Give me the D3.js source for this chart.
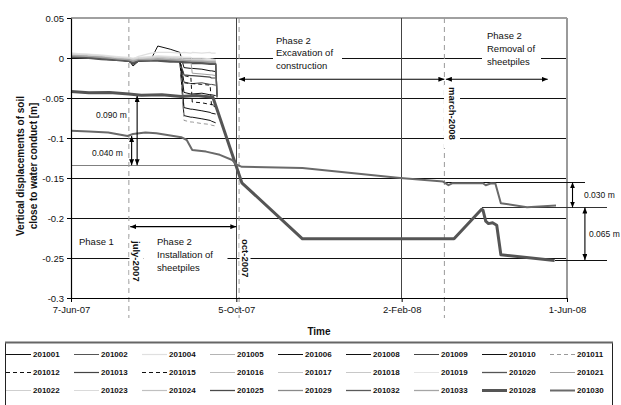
<!DOCTYPE html>
<html>
<head>
<meta charset="utf-8">
<script src="https://cdn.jsdelivr.net/npm/d3@7"></script>
<style>
  body { margin: 0; background: #fff; }
  svg { display: block; }
  text { font-family: "Liberation Sans", Arial, sans-serif; fill: #111; }
</style>
</head>
<body>
<svg id="chart" width="621" height="405"></svg>
<script>
// ---- Settlement readings (vertical displacement, metres) ----
const seriesNames = [
  "201001","201002","201004","201005","201006","201008","201009","201010","201011",
  "201012","201013","201015","201016","201017","201018","201019","201020","201021",
  "201022","201023","201024","201025","201029","201032","201033","201028","201030"
];

// survey dates shared by the points around the conduct (summer 2007)
const clusterDates = [
  "2007-06-07","2007-06-18","2007-06-29","2007-07-10","2007-07-19","2007-07-22",
  "2007-07-26","2007-08-04","2007-08-09","2007-08-18","2007-08-25","2007-08-28",
  "2007-09-02","2007-09-03","2007-09-10","2007-09-16","2007-09-17","2007-09-20","2007-09-21"
];

const v201001 = [0.004,0.003,0.001,-0.001,-0.003,-0.010,-0.004,-0.002,0.015,0.011,0.007,-0.012,-0.013,-0.013,-0.014,-0.016,-0.016,-0.017,null];
const v201002 = [0.002,0.001,0.000,-0.002,-0.004,-0.006,-0.003,-0.003,-0.002,-0.003,-0.004,-0.004,-0.005,-0.005,-0.005,-0.006,-0.006,-0.007,null];
const v201004 = [0.006,0.005,0.003,0.001,0.000,-0.001,0.002,0.006,0.007,0.007,0.006,0.007,0.006,0.007,0.006,0.007,0.006,0.006,null];
const v201005 = [0.005,0.004,0.002,0.000,-0.001,-0.002,0.000,0.000,0.001,0.000,-0.001,-0.002,-0.002,-0.003,-0.003,-0.004,-0.004,-0.004,null];
const v201006 = [0.003,0.002,0.000,-0.002,-0.004,-0.008,-0.003,-0.002,-0.001,-0.002,-0.003,-0.043,-0.045,-0.045,-0.044,-0.046,-0.046,-0.047,null];
const v201008 = [0.002,0.001,-0.001,-0.002,-0.003,-0.005,-0.003,-0.003,-0.002,-0.003,-0.004,-0.062,-0.064,-0.064,-0.066,-0.068,-0.069,-0.070,null];
const v201009 = [0.004,0.003,0.001,-0.001,-0.002,-0.004,-0.002,-0.001,-0.001,-0.002,-0.003,-0.030,-0.032,-0.032,-0.031,-0.033,-0.033,-0.034,null];
const v201010 = [0.003,0.002,0.000,-0.002,-0.003,-0.006,-0.002,-0.002,-0.001,-0.002,-0.003,-0.072,-0.074,-0.074,-0.076,-0.078,-0.079,-0.081,null];
const v201011 = [0.002,0.001,-0.001,-0.002,-0.004,-0.005,-0.003,-0.002,-0.002,-0.003,-0.004,-0.078,-0.080,-0.080,-0.082,-0.083,-0.084,-0.085,null];
const v201012 = [0.003,0.002,0.000,-0.001,-0.003,-0.006,-0.003,-0.002,-0.002,-0.003,-0.004,-0.022,-0.024,-0.055,-0.056,-0.058,-0.058,-0.060,null];
const v201013 = [0.001,0.000,-0.001,-0.003,-0.004,-0.007,-0.004,-0.003,-0.003,-0.004,-0.005,-0.021,-0.022,-0.022,-0.023,-0.024,-0.025,-0.025,null];
const v201015 = [0.002,0.001,0.000,-0.002,-0.003,-0.005,-0.002,-0.002,-0.001,-0.002,-0.003,-0.031,-0.032,-0.032,-0.033,-0.034,-0.060,-0.061,null];
const v201016 = [0.004,0.003,0.001,-0.001,-0.002,-0.003,-0.001,-0.001,0.000,-0.001,-0.002,-0.002,-0.003,-0.003,-0.004,-0.004,-0.004,-0.005,null];
const v201017 = [0.003,0.003,0.001,0.000,-0.002,-0.003,-0.002,-0.001,-0.001,-0.002,-0.002,-0.003,-0.003,-0.004,-0.003,-0.004,-0.005,-0.005,null];
const v201018 = [0.005,0.004,0.002,0.000,-0.001,-0.002,0.000,0.001,0.001,0.001,0.000,-0.001,-0.001,-0.002,-0.002,-0.003,-0.003,-0.003,null];
const v201019 = [0.006,0.005,0.004,0.002,0.001,0.000,0.001,0.002,0.003,0.002,0.002,0.001,0.001,0.000,0.000,-0.001,-0.001,-0.002,null];
const v201020 = [0.001,0.000,-0.002,-0.003,-0.004,-0.006,-0.004,-0.004,-0.004,-0.005,-0.005,-0.006,-0.006,-0.007,-0.007,-0.008,-0.008,-0.008,-0.048];
const v201021 = [0.003,0.002,0.000,-0.001,-0.003,-0.004,-0.002,-0.002,-0.002,-0.003,-0.003,-0.004,-0.004,-0.019,-0.020,-0.021,-0.021,-0.022,null];
const v201022 = [0.004,0.003,0.002,0.000,-0.001,-0.003,-0.001,0.000,0.000,-0.001,-0.001,-0.002,-0.002,-0.002,-0.003,-0.003,-0.003,-0.004,null];
const v201023 = [0.005,0.004,0.003,0.001,0.000,-0.001,0.000,0.001,0.002,0.001,0.001,0.000,0.000,-0.001,-0.001,-0.001,-0.002,-0.002,null];
const v201024 = [0.003,0.002,0.001,-0.001,-0.002,-0.003,-0.002,-0.001,-0.001,-0.002,-0.002,-0.003,-0.004,-0.004,-0.005,-0.005,-0.006,-0.006,-0.050];
const v201025 = [0.002,0.001,-0.001,-0.002,-0.004,-0.007,-0.004,-0.003,-0.003,-0.004,-0.004,-0.005,-0.005,-0.006,-0.006,-0.007,-0.007,-0.007,-0.049];
const v201029 = [0.002,0.002,0.000,-0.002,-0.003,-0.005,-0.003,-0.002,-0.002,-0.003,-0.003,-0.004,-0.004,-0.005,-0.005,-0.006,-0.006,-0.006,null];
const v201032 = [0.001,0.001,-0.001,-0.002,-0.004,-0.006,-0.003,-0.003,-0.003,-0.004,-0.004,-0.005,-0.005,-0.005,-0.006,-0.007,-0.007,-0.008,-0.047];
const v201033 = [0.003,0.002,0.001,-0.001,-0.002,-0.004,-0.002,-0.002,-0.001,-0.002,-0.003,-0.003,-0.004,-0.004,-0.004,-0.005,-0.005,-0.005,null];

// point 201028: follows the excavation down and the later recovery
const dates201028 = [
  "2007-06-07","2007-06-20","2007-07-05","2007-07-19","2007-07-28","2007-08-12","2007-08-26",
  "2007-09-06","2007-09-18","2007-10-09","2007-11-22","2008-03-11","2008-03-31","2008-04-01",
  "2008-04-03","2008-04-05","2008-04-08","2008-04-11","2008-04-14","2008-05-23"
];
const v201028 = [-0.042,-0.0435,-0.043,-0.045,-0.0465,-0.046,-0.048,-0.047,-0.049,-0.156,-0.226,-0.226,-0.189,-0.190,-0.204,-0.207,-0.206,-0.209,-0.246,-0.253];

// point 201030
const dates201030 = [
  "2007-06-07","2007-06-20","2007-07-04","2007-07-18","2007-07-22","2007-07-31","2007-08-08",
  "2007-08-26","2007-08-30","2007-09-03","2007-09-13","2007-09-23","2007-10-02","2007-10-05",
  "2007-10-09","2007-11-22","2008-02-01","2008-03-03","2008-03-07","2008-03-10","2008-04-01",
  "2008-04-03","2008-04-07","2008-04-10","2008-04-14","2008-05-03","2008-05-24"
];
const v201030 = [-0.091,-0.092,-0.093,-0.0975,-0.095,-0.093,-0.094,-0.099,-0.1025,-0.115,-0.117,-0.121,-0.1275,-0.133,-0.136,-0.1375,-0.150,-0.1545,-0.159,-0.1565,-0.1565,-0.159,-0.1565,-0.157,-0.1815,-0.1865,-0.1845];

// axis ticks
const xTickDates = ["2007-06-07","2007-10-05","2008-02-02","2008-06-01"];
const yTickValues = [0.05, 0, -0.05, -0.1, -0.15, -0.2, -0.25, -0.3];
const yTickLabels = ["0.05","0","-0.05","-0.1","-0.15","-0.2","-0.25","-0.3"];

// construction milestones (dashed markers)
const milestoneDates = ["2007-07-19","2007-10-07","2008-03-04"];
const milestoneLabels = ["july-2007","oct-2007","march-2008"];

// measured settlement differences
const settlementLabels = ["0.090 m","0.040 m","0.030 m","0.065 m"];
const settlementFrom = [-0.0475, -0.0975, -0.1554, -0.1869];
const settlementTo   = [-0.134, -0.134, -0.1869, -0.2525];

// ---- styles ----
const seriesStyle = {
  "201001": {c:"#111", w:1}, "201002": {c:"#555", w:1}, "201004": {c:"#e0e0e0", w:1.2},
  "201005": {c:"#b4b4b4", w:1}, "201006": {c:"#111", w:1}, "201008": {c:"#111", w:1},
  "201009": {c:"#444", w:1}, "201010": {c:"#111", w:1}, "201011": {c:"#999", w:1, dash:"4,3"},
  "201012": {c:"#111", w:1, dash:"4,3"}, "201013": {c:"#444", w:1.2}, "201015": {c:"#111", w:1, dash:"4,3"},
  "201016": {c:"#bdbdbd", w:1}, "201017": {c:"#c4c4c4", w:1}, "201018": {c:"#c8c8c8", w:1},
  "201019": {c:"#e4e4e4", w:1}, "201020": {c:"#555", w:1.3}, "201021": {c:"#a0a0a0", w:1},
  "201022": {c:"#cfcfcf", w:1}, "201023": {c:"#dadada", w:1}, "201024": {c:"#c0c0c0", w:1.2},
  "201025": {c:"#4a4a4a", w:1.3}, "201029": {c:"#8a8a8a", w:1.3}, "201032": {c:"#5a5a5a", w:1.3},
  "201033": {c:"#a5a5a5", w:1.3}, "201028": {c:"#555", w:3}, "201030": {c:"#6a6a6a", w:2}
};

const clusterValues = {
  "201001": v201001, "201002": v201002, "201004": v201004, "201005": v201005, "201006": v201006,
  "201008": v201008, "201009": v201009, "201010": v201010, "201011": v201011, "201012": v201012,
  "201013": v201013, "201015": v201015, "201016": v201016, "201017": v201017, "201018": v201018,
  "201019": v201019, "201020": v201020, "201021": v201021, "201022": v201022, "201023": v201023,
  "201024": v201024, "201025": v201025, "201029": v201029, "201032": v201032, "201033": v201033
};

const parse = d3.timeParse("%Y-%m-%d");
const svg = d3.select("#chart");

const x = d3.scaleTime().domain([parse("2007-06-07"), parse("2008-06-01")]).range([71, 567]);
const y = d3.scaleLinear().domain([-0.3, 0.05]).range([298, 18]);
const [x0, x1] = x.range();

// arrow head marker
const defs = svg.append("defs");
defs.append("marker").attr("id", "ah")
  .attr("viewBox", "0 0 10 10").attr("refX", 10).attr("refY", 5)
  .attr("markerWidth", 6).attr("markerHeight", 5).attr("preserveAspectRatio", "none")
  .attr("markerUnits", "userSpaceOnUse").attr("orient", "auto-start-reverse")
  .append("path").attr("d", "M0,0L10,5L0,10Z").attr("fill", "#000");

// ---- grid ----
const grid = svg.append("g").attr("shape-rendering", "crispEdges");
grid.selectAll("line.h").data(yTickValues.filter(v => v < 0.05 && v > -0.3)).join("line")
  .attr("x1", x0).attr("x2", x1).attr("y1", d => y(d)).attr("y2", d => y(d))
  .attr("stroke", "#111").attr("stroke-width", 1);
grid.append("line").attr("x1", x0).attr("x2", x1).attr("y1", y(0.05)).attr("y2", y(0.05))
  .attr("stroke", "#a0a0a0").attr("stroke-width", 1.5);
grid.selectAll("line.v").data(xTickDates.slice(1, 3)).join("line")
  .attr("x1", d => x(parse(d))).attr("x2", d => x(parse(d)))
  .attr("y1", y(0.05)).attr("y2", y(-0.3)).attr("stroke", "#444");
grid.append("line").attr("x1", x1).attr("x2", x1).attr("y1", y(0.05)).attr("y2", y(-0.3))
  .attr("stroke", "#9a9a9a").attr("stroke-width", 2);

// reference levels
const refs = svg.append("g").attr("shape-rendering", "crispEdges");
refs.append("line").attr("x1", x0).attr("x2", x(parse("2007-10-05")))
  .attr("y1", y(-0.134)).attr("y2", y(-0.134)).attr("stroke", "#808080").attr("stroke-width", 1.3);
refs.append("line").attr("x1", x(parse("2008-03-05"))).attr("x2", x(parse("2008-06-14")))
  .attr("y1", y(-0.1554)).attr("y2", y(-0.1554)).attr("stroke", "#111");
refs.append("line").attr("x1", x(parse("2008-03-31"))).attr("x2", x(parse("2008-06-30")))
  .attr("y1", y(-0.1869)).attr("y2", y(-0.1869)).attr("stroke", "#333").attr("stroke-width", 1.3);
refs.append("line").attr("x1", x(parse("2008-05-23"))).attr("x2", x(parse("2008-06-30")))
  .attr("y1", y(-0.2525)).attr("y2", y(-0.2525)).attr("stroke", "#111");

// milestone dashed markers
svg.append("g").selectAll("line").data(milestoneDates).join("line")
  .attr("x1", d => x(parse(d))).attr("x2", d => x(parse(d)))
  .attr("y1", y(0.05)).attr("y2", 318)
  .attr("stroke", "#999").attr("stroke-dasharray", "5,4").attr("stroke-width", 1);

// ---- text annotations with white backing ----
const ann = svg.append("g");
const boxes = [[273, 30, 69, 42], [482, 27, 59, 42], [444, 85, 16, 63], [129.5, 237, 14, 44], [143.5, 234, 84, 42], [239.5, 235, 11, 44]];
ann.selectAll("rect").data(boxes).join("rect")
  .attr("x", d => d[0]).attr("y", d => d[1]).attr("width", d => d[2]).attr("height", d => d[3])
  .attr("fill", "#fff");

function block(lines, xp, y0, dy) {
  lines.forEach((t, i) => ann.append("text").attr("x", xp).attr("y", y0 + i * dy)
    .attr("font-size", 9.5).text(t));
}
block(["Phase 2", "Excavation of", "construction"], 276, 43.5, 12.6);
block(["Phase 2", "Removal of", "sheetpiles"], 487, 38.5, 13);
block(["Phase 1"], 79, 244.5, 13);
block(["Phase 2", "Installation of", "sheetpiles"], 157, 244.5, 13.2);

const rotX = [136, 245, 452.7];
const rotY = [241, 239, 87];
milestoneLabels.forEach((t, i) => {
  ann.append("text").attr("transform", `translate(${rotX[i]},${rotY[i]}) rotate(90)`)
    .attr("dominant-baseline", "central").attr("font-size", 9.5).attr("font-weight", "bold").text(t);
});

// ---- data lines ----
const lineGen = d3.line().defined(d => d.v !== null).x(d => x(d.date)).y(d => y(d.v));
const seriesData = seriesNames.map(name => {
  let pts;
  if (name === "201028") pts = dates201028.map((d, i) => ({date: parse(d), v: v201028[i]}));
  else if (name === "201030") pts = dates201030.map((d, i) => ({date: parse(d), v: v201030[i]}));
  else pts = clusterDates.map((d, i) => ({date: parse(d), v: clusterValues[name][i]}));
  return {name, pts};
});
svg.append("g").selectAll("path").data(seriesData).join("path")
  .attr("d", d => lineGen(d.pts)).attr("fill", "none")
  .attr("stroke", d => seriesStyle[d.name].c).attr("stroke-width", d => seriesStyle[d.name].w)
  .attr("stroke-dasharray", d => seriesStyle[d.name].dash || null)
  .attr("stroke-linejoin", "round");

// ---- arrows ----
const arrows = svg.append("g").attr("stroke", "#000").attr("stroke-width", 1.1);
function arrow(xa, ya, xb, yb) {
  arrows.append("line").attr("x1", xa).attr("y1", ya).attr("x2", xb).attr("y2", yb)
    .attr("marker-start", "url(#ah)").attr("marker-end", "url(#ah)");
}
arrow(x(parse(milestoneDates[1])), y(-0.0266), x(parse(milestoneDates[2])), y(-0.0266));
arrow(x(parse(milestoneDates[2])) + 1.5, y(-0.0266), x(parse("2008-05-18")), y(-0.0266));
arrow(x(parse("2007-07-20")), y(-0.2108), x(parse("2007-10-05")), y(-0.2108));

const arrowDates = ["2007-07-25", "2007-07-21", "2008-06-05", "2008-06-14"];
settlementLabels.forEach((t, i) => {
  const xa = x(parse(arrowDates[i]));
  arrow(xa, y(settlementFrom[i]), xa, y(settlementTo[i]));
});
const labX = [96, 92, 584, 589];
const labY = [117.5, 156, 197.5, 237];
settlementLabels.forEach((t, i) => {
  ann.append("text").attr("x", labX[i]).attr("y", labY[i]).attr("font-size", 8.5).text(t);
});

// ---- axes ----
const fmt = d3.timeFormat("%-d-%b-%y");
const gx = svg.append("g").attr("transform", `translate(0,${y(-0.3)})`);
gx.call(d3.axisBottom(x).tickValues(d3.range(0, 25).map(i => d3.timeDay.offset(parse("2007-06-07"), i * 15)))
  .tickSize(3).tickSizeOuter(0).tickFormat(""));
gx.call(d3.axisBottom(x).tickValues(xTickDates.map(parse)).tickFormat(fmt).tickSize(4).tickSizeOuter(0).tickPadding(4));
gx.selectAll("text").attr("font-size", 9.5).attr("font-family", "Liberation Sans, Arial, sans-serif");

const gy = svg.append("g").attr("transform", `translate(${x0},0)`);
gy.call(d3.axisLeft(y).tickValues(d3.range(-30, 6).map(i => i / 100)).tickSize(3).tickSizeOuter(0).tickFormat(""));
gy.call(d3.axisLeft(y).tickValues(yTickValues).tickFormat((d, i) => yTickLabels[i]).tickSize(4).tickSizeOuter(0).tickPadding(3));
gy.selectAll("text").attr("font-size", 9.5).attr("font-family", "Liberation Sans, Arial, sans-serif");
svg.selectAll(".domain").attr("stroke", "#000").attr("stroke-width", 1.2);
svg.selectAll(".tick line").attr("stroke", "#000");

// axis titles
svg.append("text").attr("x", (x0 + x1) / 2).attr("y", 334.5).attr("text-anchor", "middle")
  .attr("font-size", 10).attr("font-weight", "bold").text("Time");
const yTitle = ["Vertical displacements of soil", "close to water conduct [m]"];
yTitle.forEach((t, i) => {
  svg.append("text").attr("transform", `translate(${20 + i * 13},166) rotate(-90)`)
    .attr("text-anchor", "middle").attr("dominant-baseline", "central")
    .attr("font-size", 10).attr("font-weight", "bold").text(t);
});

// ---- legend ----
const legend = svg.append("g");
legend.append("rect").attr("x", 5.5).attr("y", 342.5).attr("width", 607).attr("height", 80)
  .attr("fill", "#fff").attr("stroke", "#222").attr("stroke-width", 1);
legend.append("line").attr("x1", 5).attr("x2", 613).attr("y1", 342.5).attr("y2", 342.5)
  .attr("stroke", "#666").attr("stroke-width", 2);
const rowY = [354, 372, 390];
const items = legend.selectAll("g.item").data(seriesNames).join("g")
  .attr("transform", (d, i) => `translate(${33 + (i % 9) * 68},${rowY[Math.floor(i / 9)]})`);
items.append("line").attr("x1", -27).attr("x2", -2).attr("y1", 0.5).attr("y2", 0.5)
  .attr("stroke", d => seriesStyle[d].c).attr("stroke-width", d => seriesStyle[d].w)
  .attr("stroke-dasharray", d => seriesStyle[d].dash || null);
items.append("text").attr("x", 0).attr("y", 0).attr("dominant-baseline", "central")
  .attr("font-size", 8).attr("font-weight", "bold").text(d => d);
</script>
</body>
</html>
